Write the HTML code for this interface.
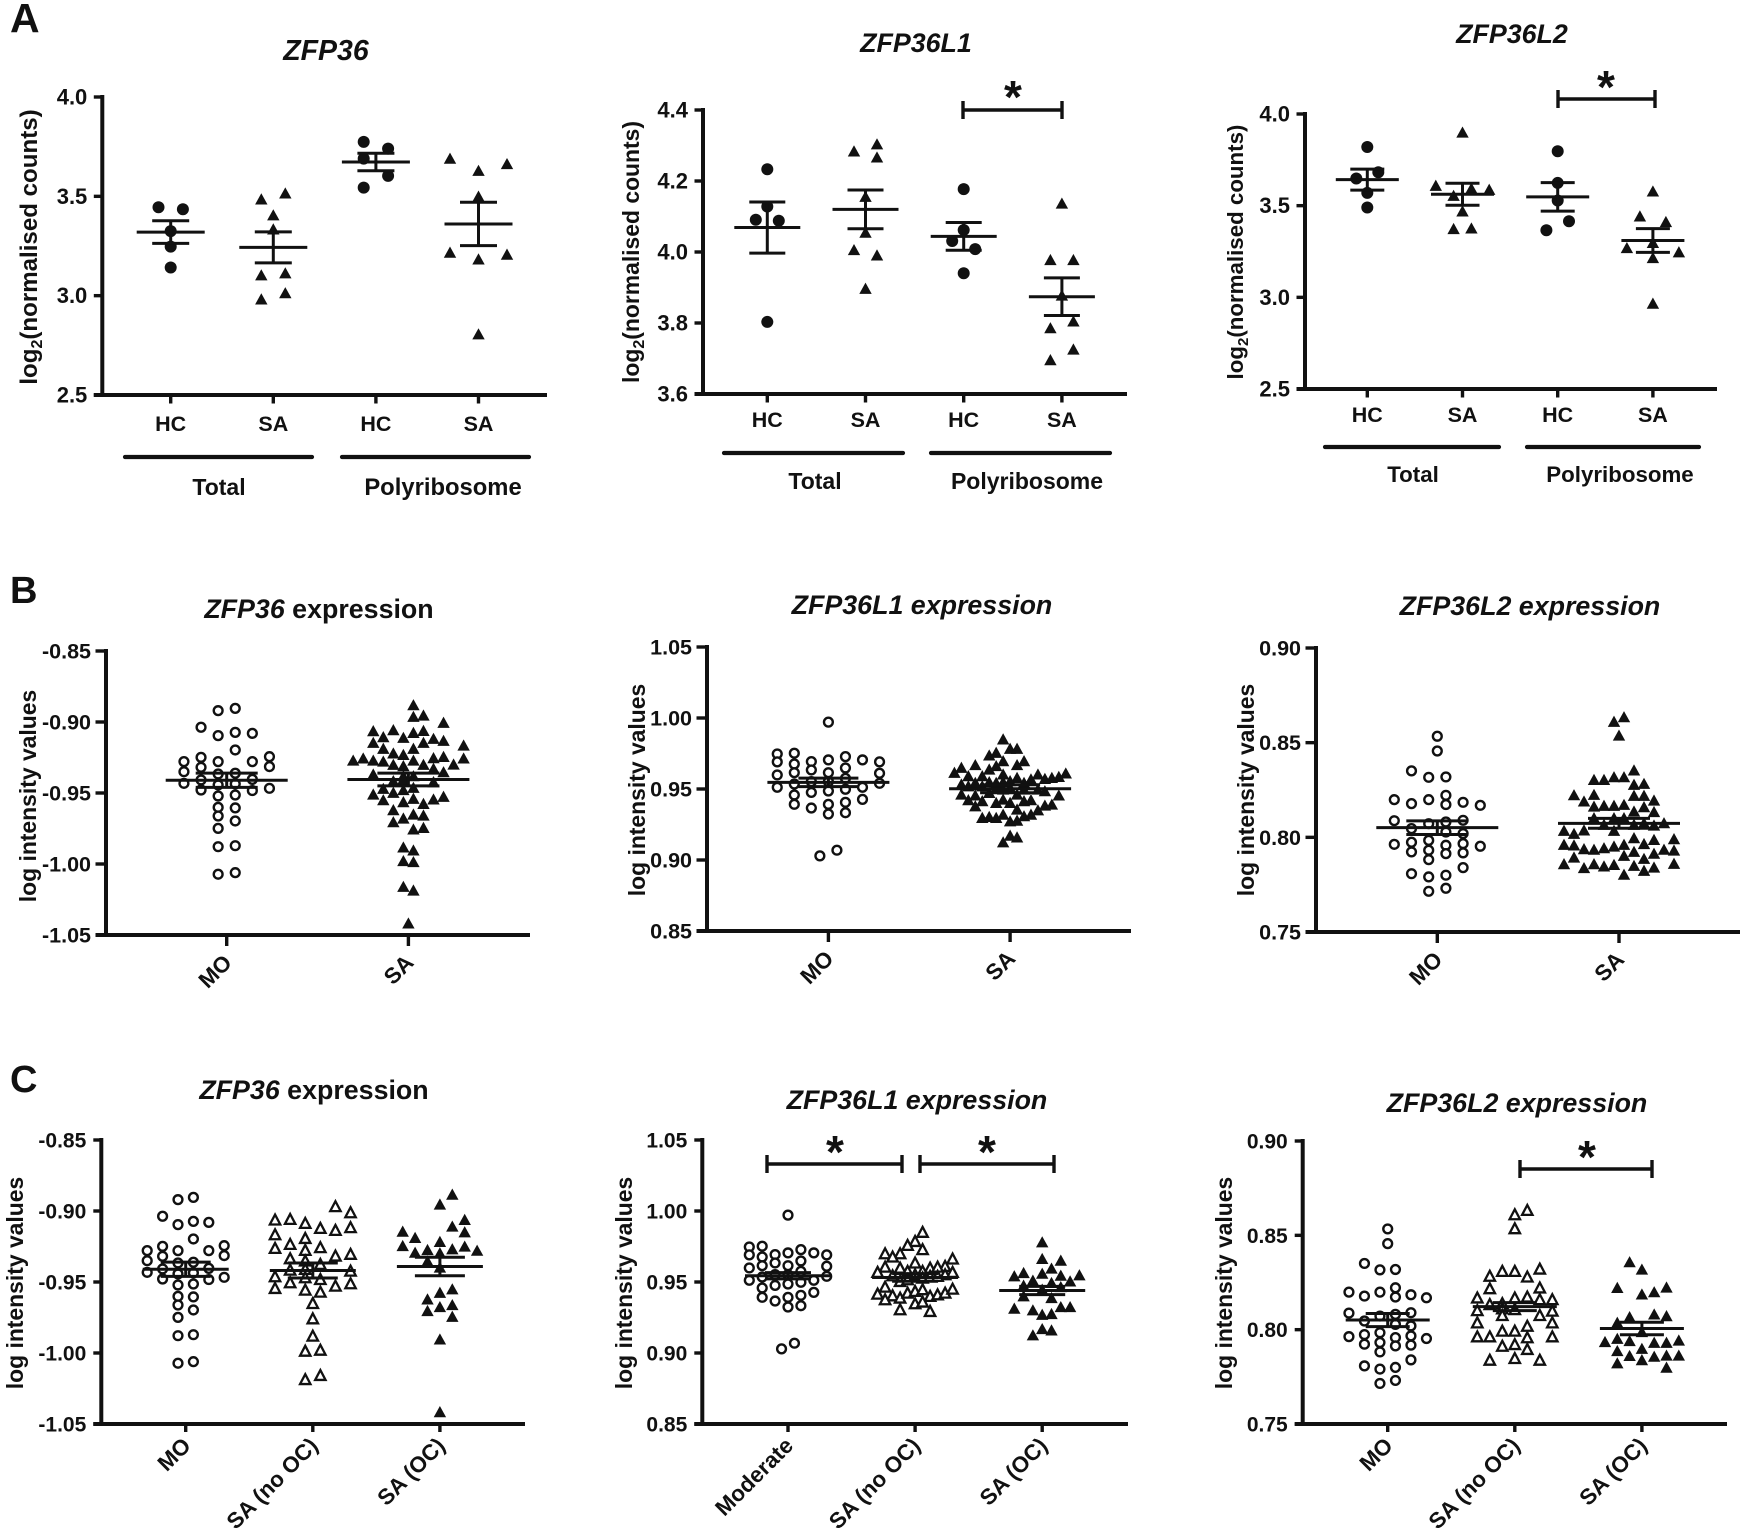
<!DOCTYPE html>
<html lang="en">
<head>
<meta charset="utf-8">
<title>ZFP36 family expression panels</title>
<style>
html,body{margin:0;padding:0;background:#fff;}
svg{display:block;}
text{font-family:"Liberation Sans",Arial,sans-serif;font-weight:bold;fill:#111;}
.title{font-size:26.8px;font-style:italic;text-anchor:middle;}
.title tspan.plain{font-style:normal;}
.letter{font-size:38px;font-weight:bold;}
.ytitle{font-size:22.9px;text-anchor:middle;}
.group{font-size:23px;text-anchor:middle;}
.star{font-size:46px;text-anchor:middle;}
.bar{stroke:#111;stroke-width:4.2;stroke-linecap:round;fill:none;}
.bracket{stroke:#111;stroke-width:3.4;fill:none;}
</style>
</head>
<body>
<svg id="figure" xmlns="http://www.w3.org/2000/svg" width="1748" height="1534" viewBox="0 0 1748 1534">
  <rect width="1748" height="1534" fill="#fff"/>

  <text class="letter" x="10" y="32" style="font-size:41px">A</text>
  <text class="letter" x="10" y="603">B</text>
  <text class="letter" x="10" y="1092">C</text>

  <text class="title" x="326" y="60" style="font-size:28.5px">ZFP36</text>
  <text class="title" x="916" y="52">ZFP36L1</text>
  <text class="title" x="1512" y="43">ZFP36L2</text>
  <text class="title" x="319" y="618">ZFP36<tspan class="plain"> expression</tspan></text>
  <text class="title" x="922" y="614">ZFP36L1 expression</text>
  <text class="title" x="1530" y="615">ZFP36L2 expression</text>
  <text class="title" x="314" y="1099">ZFP36<tspan class="plain"> expression</tspan></text>
  <text class="title" x="917" y="1109">ZFP36L1 expression</text>
  <text class="title" x="1517" y="1112">ZFP36L2 expression</text>

  <text class="ytitle" transform="translate(37,247) rotate(-90)" style="font-size:24.1px">log<tspan dy="5" style="font-size:16px">2</tspan><tspan dy="-5">(normalised counts)</tspan></text>
  <text class="ytitle" transform="translate(639,252) rotate(-90)" style="font-size:22.9px">log<tspan dy="5" style="font-size:16px">2</tspan><tspan dy="-5">(normalised counts)</tspan></text>
  <text class="ytitle" transform="translate(1243,252) rotate(-90)" style="font-size:22.3px">log<tspan dy="5" style="font-size:15px">2</tspan><tspan dy="-5">(normalised counts)</tspan></text>
  <text class="ytitle" transform="translate(36,796) rotate(-90)">log intensity values</text>
  <text class="ytitle" transform="translate(645,790) rotate(-90)">log intensity values</text>
  <text class="ytitle" transform="translate(1254,790) rotate(-90)">log intensity values</text>
  <text class="ytitle" transform="translate(23,1283) rotate(-90)">log intensity values</text>
  <text class="ytitle" transform="translate(632,1283) rotate(-90)">log intensity values</text>
  <text class="ytitle" transform="translate(1232,1283) rotate(-90)">log intensity values</text>

  <line class="bar" x1="125" y1="457" x2="312" y2="457"/>
  <line class="bar" x1="342" y1="457" x2="529" y2="457"/>
  <text class="group" x="219" y="495">Total</text>
  <text class="group" x="443" y="495" style="font-size:23.8px">Polyribosome</text>

  <line class="bar" x1="724" y1="453" x2="903" y2="453"/>
  <line class="bar" x1="931" y1="453" x2="1110" y2="453"/>
  <text class="group" x="815" y="489">Total</text>
  <text class="group" x="1027" y="489">Polyribosome</text>

  <line class="bar" x1="1325" y1="447" x2="1499" y2="447"/>
  <line class="bar" x1="1527" y1="447" x2="1699" y2="447"/>
  <text class="group" x="1413" y="482" style="font-size:22.3px">Total</text>
  <text class="group" x="1620" y="482" style="font-size:22.3px">Polyribosome</text>

  <path class="bracket" d="M963 101V119M963 110H1062M1062 101V119"/>
  <text class="star" x="1013" y="113">*</text>
  <path class="bracket" d="M1558 90V108M1558 99H1655M1655 90V108"/>
  <text class="star" x="1606" y="103">*</text>
  <path class="bracket" d="M767 1155V1173M767 1164H902M902 1155V1173"/>
  <text class="star" x="835" y="1168">*</text>
  <path class="bracket" d="M920 1155V1173M920 1164H1054M1054 1155V1173"/>
  <text class="star" x="987" y="1168">*</text>
  <path class="bracket" d="M1520 1160V1178M1520 1169H1652M1652 1160V1178"/>
  <text class="star" x="1587" y="1173">*</text>

  <g id="charts"></g>
</svg>

<script>
// ---------- Panel A data ----------
const a1Categories = ['HC', 'SA', 'HC', 'SA'];
const a1TickLabels = ['2.5', '3.0', '3.5', '4.0'];
const a1HcTotalValues = [3.445, 3.435, 3.325, 3.247, 3.142];
const a1HcTotalLanes = [-1, 1, 0, 0, 0];
const a1SaTotalValues = [3.482, 3.512, 3.402, 3.331, 3.10, 3.11, 3.01, 2.979];
const a1SaTotalLanes = [-1, 1, 0, 0, -1, 1, 1, -1];
const a1HcPolyValues = [3.774, 3.74, 3.69, 3.603, 3.544];
const a1HcPolyLanes = [-1, 1, -1, 1, -1];
const a1SaPolyValues = [3.687, 3.66, 3.626, 3.496, 3.214, 3.204, 3.18, 2.803];
const a1SaPolyLanes = [-1, 1, 0, 0, -1, 1, 0, 0];
const a1Means = [3.32, 3.243, 3.673, 3.361];
const a1Sems = [0.057, 0.078, 0.044, 0.109];

const a2Categories = ['HC', 'SA', 'HC', 'SA'];
const a2TickLabels = ['3.6', '3.8', '4.0', '4.2', '4.4'];
const a2HcTotalValues = [4.233, 4.128, 4.091, 4.088, 3.803];
const a2HcTotalLanes = [0, 0, -1, 1, 0];
const a2SaTotalValues = [4.302, 4.282, 4.265, 4.154, 4.053, 4.004, 3.989, 3.895];
const a2SaTotalLanes = [1, -1, 1, 0, 0, -1, 1, 0];
const a2HcPolyValues = [4.177, 4.062, 4.031, 4.008, 3.94];
const a2HcPolyLanes = [0, 0, -1, 1, 0];
const a2SaPolyValues = [4.135, 3.976, 3.976, 3.876, 3.803, 3.784, 3.724, 3.694];
const a2SaPolyLanes = [0, -1, 1, 0, 1, -1, 1, -1];
const a2Means = [4.069, 4.12, 4.044, 3.874];
const a2Sems = [0.072, 0.0545, 0.039, 0.053];

const a3Categories = ['HC', 'SA', 'HC', 'SA'];
const a3TickLabels = ['2.5', '3.0', '3.5', '4.0'];
const a3HcTotalValues = [3.82, 3.682, 3.648, 3.57, 3.49];
const a3HcTotalLanes = [0, 1, -1, 0, 0];
const a3SaTotalValues = [3.896, 3.606, 3.584, 3.59, 3.551, 3.466, 3.37, 3.373];
const a3SaTotalLanes = [0, -3, 3, 1, -1, 0, -1, 1];
const a3HcPolyValues = [3.797, 3.624, 3.528, 3.415, 3.366];
const a3HcPolyLanes = [0, 0, 0, 1, -1];
const a3SaPolyValues = [3.575, 3.439, 3.408, 3.294, 3.266, 3.243, 3.212, 2.963];
const a3SaPolyLanes = [0, -1, 1, 0, -2, 2, 0, 0];
const a3Means = [3.642, 3.562, 3.548, 3.31];
const a3Sems = [0.057, 0.06, 0.078, 0.065];

// ---------- Moderate (MO) data, shared by panels B and C ----------
const zfp36MoValues = [-0.9279, -0.935, -0.9432, -0.9037, -0.9249, -0.9319, -0.9408, -0.9479, -0.892, -0.9096, -0.9279, -0.9366, -0.9443, -0.9521, -0.9601, -0.9662, -0.9749, -0.9878, -1.0072, -0.8904, -0.9073, -0.9197, -0.9361, -0.9436, -0.9514, -0.9605, -0.9697, -0.9871, -1.0061, -0.908, -0.9279, -0.9404, -0.9483, -0.9244, -0.9314, -0.9467];
const zfp36MoLanes = [-2.5, -2.5, -2.5, -1.5, -1.5, -1.5, -1.5, -1.5, -0.5, -0.5, -0.5, -0.5, -0.5, -0.5, -0.5, -0.5, -0.5, -0.5, -0.5, 0.5, 0.5, 0.5, 0.5, 0.5, 0.5, 0.5, 0.5, 0.5, 0.5, 1.5, 1.5, 1.5, 1.5, 2.5, 2.5, 2.5];
const l1MoValues = [0.9747, 0.9691, 0.9599, 0.9512, 0.9752, 0.9676, 0.9615, 0.9535, 0.9458, 0.9392, 0.9693, 0.9634, 0.9552, 0.9476, 0.9366, 0.9971, 0.9705, 0.9615, 0.9552, 0.9486, 0.9392, 0.9324, 0.9728, 0.9648, 0.9575, 0.9498, 0.9406, 0.9333, 0.9705, 0.9512, 0.9427, 0.9691, 0.9611, 0.954, 0.9069, 0.9029];
const l1MoLanes = [-3, -3, -3, -3, -2, -2, -2, -2, -2, -2, -1, -1, -1, -1, -1, 0, 0, 0, 0, 0, 0, 0, 1, 1, 1, 1, 1, 1, 2, 2, 2, 3, 3, 3, 0.5, -0.5];
const l2MoValues = [0.8534, 0.8456, 0.8351, 0.8317, 0.8319, 0.8222, 0.8173, 0.8199, 0.8199, 0.8178, 0.8185, 0.8169, 0.8088, 0.8072, 0.8081, 0.809, 0.8046, 0.8028, 0.802, 0.7984, 0.7974, 0.7963, 0.7958, 0.7967, 0.7953, 0.7923, 0.7932, 0.7914, 0.7918, 0.7882, 0.7808, 0.784, 0.78, 0.7791, 0.7731, 0.7715];
const l2MoLanes = [0, 0, -1.5, -0.5, 0.5, 0.5, 0.5, -0.5, -2.5, -1.5, 1.5, 2.5, -2.5, -0.5, 0.5, 1.5, -1.5, 0.5, 1.5, -0.5, -1.5, -2.5, 0.5, 1.5, 2.5, -1.5, -0.5, 0.5, 1.5, -0.5, -1.5, 1.5, 0.5, -0.5, 0.5, -0.5];

// ---------- Panel B data ----------
const bCategories = ['MO', 'SA'];
const b1TickLabels = ['-1.05', '-1.00', '-0.95', '-0.90', '-0.85'];
const b1SaValues = [-0.8885, -0.8967, -0.8958, -0.9009, -0.9068, -0.9061, -0.908, -0.9066, -0.911, -0.9115, -0.9122, -0.9136, -0.915, -0.915, -0.9169, -0.9192, -0.9192, -0.9225, -0.9235, -0.9258, -0.9249, -0.926, -0.9275, -0.926, -0.9275, -0.9282, -0.9275, -0.9305, -0.9314, -0.9305, -0.9303, -0.9333, -0.9357, -0.9373, -0.9385, -0.9385, -0.942, -0.9408, -0.9474, -0.9502, -0.9467, -0.9483, -0.9427, -0.9514, -0.9554, -0.9544, -0.9549, -0.953, -0.9568, -0.958, -0.9624, -0.9655, -0.9662, -0.9683, -0.9709, -0.976, -0.9749, -0.9887, -0.9908, -0.9983, -0.999, -1.0164, -1.019, -1.0422];
const b1SaLanes = [0.5, 0.5, 1.5, 3.5, -3.5, -1.5, 0.5, 1.5, -2.5, -0.5, 2.5, 3.5, -3.5, 1.5, 5.5, -2.5, 0.5, -1.5, -0.5, 2.5, 3.5, 5.5, -5.5, -4.5, -3.5, -2.5, 0.5, -1.5, -0.5, 1.5, 4.5, 2.5, 3.5, -3.5, -0.5, 0.5, -1.5, -0.5, -2.5, -1.5, 0.5, -0.5, 2.5, -3.5, -2.5, 0.5, 2.5, 3.5, -0.5, 1.5, -1.5, 0.5, 1.5, -0.5, -1.5, 0.5, 1.5, -0.5, 0.5, -0.5, 0.5, -0.5, 0.5, 0];
const b1Means = [-0.941, -0.9405];
const b1Sems = [0.005, 0.0045];

const b2TickLabels = ['0.85', '0.90', '0.95', '1.00', '1.05'];
const b2SaValues = [0.9846, 0.978, 0.978, 0.9733, 0.9752, 0.9693, 0.9693, 0.9665, 0.9665, 0.9658, 0.9646, 0.9634, 0.9611, 0.9587, 0.9587, 0.9599, 0.9599, 0.9606, 0.9582, 0.9575, 0.9568, 0.9564, 0.9575, 0.9552, 0.9545, 0.954, 0.9545, 0.954, 0.9528, 0.954, 0.9516, 0.9516, 0.9505, 0.9505, 0.9493, 0.9493, 0.9493, 0.9481, 0.9458, 0.9451, 0.9469, 0.9458, 0.9451, 0.9418, 0.9411, 0.9399, 0.9399, 0.9411, 0.9418, 0.938, 0.9387, 0.9375, 0.9422, 0.9352, 0.9347, 0.9316, 0.9305, 0.9293, 0.93, 0.9293, 0.9316, 0.9269, 0.9274, 0.9168, 0.9156, 0.9121];
const b2SaLanes = [-1, 0, 1, -3, -2, -1, 2, 1, -5, -2, -7, -3, -8, -6, -4, -1, 4, 8, 7, 6, 5, 3, 1, 0, -1, -2, -3, -5, -7, 2, -6, -4, -2, 0, -1, 2, 4, 5, -7, -5, -3, 1, 7, -6, -4, -2, 0, 2, 3, 5, 6, -5, -1, 1, 4, 3, 2, -4, -3, -2, -1, 0, 1, 0, 1, -1];
const b2Means = [0.9547, 0.9502];
const b2Sems = [0.003, 0.0028];

const b3TickLabels = ['0.75', '0.80', '0.85', '0.90'];
const b3SaValues = [0.8632, 0.8608, 0.8535, 0.8351, 0.8301, 0.8301, 0.8315, 0.8315, 0.8275, 0.828, 0.822, 0.8222, 0.8217, 0.8217, 0.8187, 0.8192, 0.816, 0.8164, 0.8164, 0.8169, 0.8157, 0.8134, 0.8131, 0.8099, 0.8099, 0.8099, 0.8064, 0.8064, 0.8072, 0.806, 0.8072, 0.8032, 0.8016, 0.8034, 0.8032, 0.7993, 0.7984, 0.7988, 0.7958, 0.7955, 0.7958, 0.7962, 0.7935, 0.7932, 0.794, 0.7949, 0.7932, 0.7928, 0.7891, 0.79, 0.7921, 0.7911, 0.7884, 0.7856, 0.7856, 0.7844, 0.7852, 0.7847, 0.7835, 0.7838, 0.7821, 0.7858, 0.78];
const b3SaLanes = [0.5, -0.5, 0, 1.5, -2.5, -1.5, -0.5, 0.5, 1.5, 2.5, -4.5, -2.5, 1.5, 2.5, -3.5, 3.5, -2.5, -1.5, -0.5, 0.5, 2.5, 1.5, 3.5, -2.5, -0.5, 0.5, -1.5, 1.5, 2.5, 3.5, 4.5, -5.5, -4.5, -3.5, -0.5, 1.5, 3.5, 5.5, -5.5, -4.5, 0.5, 2.5, -3.5, -2.5, -1.5, -0.5, 4.5, 5.5, -4.5, 0.5, 1.5, 3.5, 2.5, -5.5, -2.5, -1.5, -0.5, 1.5, -3.5, 3.5, 2.5, 5.5, 0.5];
const b3Means = [0.8051, 0.8074];
const b3Sems = [0.0036, 0.0026];

// ---------- Panel C data ----------
const c1Categories = ['MO', 'SA (no OC)', 'SA (OC)'];
const c2Categories = ['Moderate', 'SA (no OC)', 'SA (OC)'];
const c3Categories = ['MO', 'SA (no OC)', 'SA (OC)'];

const c1NoOcValues = [-0.8972, -0.9015, -0.9066, -0.9062, -0.909, -0.9125, -0.9139, -0.912, -0.917, -0.9196, -0.9238, -0.9261, -0.9266, -0.928, -0.9308, -0.932, -0.9339, -0.9355, -0.9379, -0.9419, -0.9414, -0.9426, -0.9466, -0.9473, -0.9485, -0.9508, -0.9515, -0.9532, -0.9548, -0.956, -0.9574, -0.9654, -0.9762, -0.9884, -0.999, -0.9983, -1.019, -1.0161];
const c1NoOcLanes = [1.5, 2.5, -2.5, -1.5, -0.5, 0.5, 1.5, 2.5, -2.5, -0.5, -1.5, 0.5, -2.5, -0.5, 2.5, 1.5, -1.5, -0.5, 0.5, -1.5, -0.5, 2.5, -2.5, -0.5, 0.5, -1.5, 2.5, 1.5, -2.5, -0.5, 0.5, 0, 0, 0, -0.5, 0.5, -0.5, 0.5];
const c1OcValues = [-0.8888, -0.8958, -0.9066, -0.9113, -0.9149, -0.9153, -0.9193, -0.9221, -0.925, -0.9254, -0.9297, -0.9278, -0.9301, -0.9273, -0.9283, -0.9358, -0.9402, -0.9555, -0.9579, -0.9626, -0.968, -0.9666, -0.9708, -0.9748, -0.9908, -1.042];
const c1OcLanes = [1, 0, 2, 1, -3, 2, -2, 0, -3, 2, -2, -1, 0, 1, 3, -1, 0, 1, 0, -1, 0, 1, -1, 1, 0, 0];
const c1Means = [-0.941, -0.9419, -0.9391];
const c1Sems = [0.005, 0.0053, 0.0065];

const c2NoOcValues = [0.9847, 0.9783, 0.9725, 0.9755, 0.9696, 0.9696, 0.9673, 0.9659, 0.9631, 0.9607, 0.9602, 0.9595, 0.9595, 0.9602, 0.9565, 0.9572, 0.9572, 0.9565, 0.9541, 0.9548, 0.9501, 0.9513, 0.9525, 0.9537, 0.9548, 0.9537, 0.9461, 0.9412, 0.94, 0.9384, 0.9419, 0.9431, 0.9443, 0.9396, 0.9407, 0.9419, 0.9447, 0.9372, 0.9344, 0.9356, 0.9302, 0.929];
const c2NoOcLanes = [1, 0, 1, -1, -4, -2, -3, 5, 0, 4, -4, -2, 2, 3, -5, -1, 1, 5, -3, 0, -2, -1, 1, 2, 4, 3, -4, -5, -3, -2, -1, 0, 1, 2, 3, 4, 5, -4, 0, 1, -2, 2];
const c2OcValues = [0.9776, 0.9659, 0.9647, 0.9591, 0.9537, 0.956, 0.9555, 0.9541, 0.9544, 0.9506, 0.949, 0.9501, 0.9471, 0.9443, 0.9461, 0.9396, 0.9384, 0.9309, 0.9297, 0.932, 0.932, 0.9266, 0.9271, 0.9165, 0.9156, 0.9121];
const c2OcLanes = [0, 0, 2, 1, -3, -2, 0, 2, 4, -1, 1, 3, -2, 0, 2, -2, 1, -3, -1, 2, 3, 0, 1, 0, 1, -1];
const c2Means = [0.9544, 0.9532, 0.944];
const c2Sems = [0.0022, 0.0027, 0.0029];

const c3NoOcValues = [0.863, 0.8607, 0.8533, 0.8319, 0.8281, 0.8307, 0.8307, 0.8277, 0.8219, 0.8215, 0.8166, 0.8136, 0.8131, 0.8166, 0.8171, 0.8157, 0.8157, 0.8108, 0.8099, 0.8096, 0.8104, 0.8073, 0.8073, 0.8034, 0.8034, 0.8016, 0.799, 0.799, 0.796, 0.796, 0.796, 0.7955, 0.791, 0.7919, 0.7893, 0.7836, 0.7845, 0.7836];
const c3NoOcLanes = [1, 0, 0, 2, -2, -1, 0, 1, 2, -2, -3, -1, -2, 0, 1, 2, 3, -1, -3, 3, 0, -1, 2, -3, 3, 1, -1, 0, -3, -2, 3, 1, -1, 0, 1, -2, 0, 2];
const c3OcValues = [0.8355, 0.8316, 0.8219, 0.8221, 0.8196, 0.8184, 0.8034, 0.8064, 0.8078, 0.8069, 0.7985, 0.7932, 0.7949, 0.7937, 0.7928, 0.7928, 0.794, 0.7896, 0.7884, 0.7858, 0.7854, 0.786, 0.786, 0.7836, 0.7819, 0.7796];
const c3OcLanes = [-1, 0, -2, 2, 1, 0, -2, -1, 1, 2, 0, -3, -2, -1, 1, 2, 3, 0, -2, -1, 1, 2, 3, 0, -2, 2];
const c3Means = [0.8051, 0.8122, 0.8006];
const c3Sems = [0.0035, 0.0021, 0.0033];

// ---------- Drawing ----------
const SVG_NS = 'http://www.w3.org/2000/svg';
const INK = '#111';
const chartsRoot = document.getElementById('charts');

function make(tag, attrs, parent) {
  const el = document.createElementNS(SVG_NS, tag);
  for (const k in attrs) el.setAttribute(k, attrs[k]);
  parent.appendChild(el);
  return el;
}

function drawMarker(parent, shape, cx, cy) {
  let el;
  if (shape === 'circle') {
    el = make('circle', { cx: cx, cy: cy, r: 6, fill: INK }, parent);
  } else if (shape === 'circle-open') {
    el = make('circle', { cx: cx, cy: cy, r: 4.4, fill: '#fff', stroke: INK, 'stroke-width': 2.4 }, parent);
  } else if (shape === 'triangle') {
    const pts = [[cx, cy - 6.6], [cx + 6.2, cy + 4.6], [cx - 6.2, cy + 4.6]].map(p => p.join(',')).join(' ');
    el = make('polygon', { points: pts, fill: INK }, parent);
  } else {
    const pts = [[cx, cy - 5.8], [cx + 5.2, cy + 4.1], [cx - 5.2, cy + 4.1]].map(p => p.join(',')).join(' ');
    el = make('polygon', { points: pts, fill: '#fff', stroke: INK, 'stroke-width': 2.3 }, parent);
  }
  
  
}

function drawChart(cfg) {
  const g = make('g', {}, chartsRoot);
  
  

  const lo = parseFloat(cfg.ticks[0]);
  const hi = parseFloat(cfg.ticks[cfg.ticks.length - 1]);
  const yScale = v => cfg.yBot - (v - lo) / (hi - lo) * (cfg.yBot - cfg.yTop);
  const xScale = i => cfg.catStart + i * cfg.catStep;

  const yAxis = make('line', { x1: cfg.x0, x2: cfg.x0, y1: cfg.yTop - 2, y2: cfg.yBot + 2, stroke: INK, 'stroke-width': 4 }, g);
  
  
  const xAxis = make('line', { x1: cfg.x0 - cfg.yTickLen, x2: cfg.xEnd, y1: cfg.yBot, y2: cfg.yBot, stroke: INK, 'stroke-width': 4 }, g);
  
  

  cfg.ticks.forEach(label => {
    const y = yScale(parseFloat(label));
    const tick = make('line', { x1: cfg.x0 - cfg.yTickLen, x2: cfg.x0, y1: y, y2: y, stroke: INK, 'stroke-width': 3.4 }, g);
    
    
    const t = make('text', { x: cfg.x0 - 15, y: y + 7.5, 'text-anchor': 'end', 'font-size': cfg.tickFont }, g);
    
    
    t.textContent = label;
  });

  cfg.categories.forEach((label, i) => {
    const x = xScale(i);
    const tick = make('line', { x1: x, x2: x, y1: cfg.yBot, y2: cfg.yBot + cfg.xTickLen, stroke: INK, 'stroke-width': 3.4 }, g);
    
    
    let t;
    if (cfg.rotateLabels) {
      const ax = x + 6.5;
      const ay = cfg.yBot + cfg.labelDrop;
      t = make('text', { x: ax, y: ay, 'text-anchor': 'end', 'font-size': 22.3, transform: 'rotate(-45 ' + ax + ' ' + ay + ')' }, g);
    } else {
      t = make('text', { x: x, y: cfg.labelY, 'text-anchor': 'middle', 'font-size': 21.5 }, g);
    }
    
    
    t.textContent = label;
  });

  cfg.series.forEach((s, i) => {
    const cx = xScale(i);
    s.values.forEach((v, k) => {
      drawMarker(g, s.shape, cx + s.lanes[k] * s.laneStep, yScale(v));
    });
  });

  cfg.series.forEach((s, i) => {
    const cx = xScale(i);
    const m = yScale(cfg.means[i]);
    const up = yScale(cfg.means[i] + cfg.sems[i]);
    const dn = yScale(cfg.means[i] - cfg.sems[i]);
    const meanLine = make('line', { x1: cx - cfg.meanHalf, x2: cx + cfg.meanHalf, y1: m, y2: m, stroke: INK, 'stroke-width': 3 }, g);
    
    
    const stem = make('line', { x1: cx, x2: cx, y1: up, y2: dn, stroke: INK, 'stroke-width': 3 }, g);
    
    
    const capUp = make('line', { x1: cx - cfg.errHalf, x2: cx + cfg.errHalf, y1: up, y2: up, stroke: INK, 'stroke-width': 3 }, g);
    
    
    const capDn = make('line', { x1: cx - cfg.errHalf, x2: cx + cfg.errHalf, y1: dn, y2: dn, stroke: INK, 'stroke-width': 3 }, g);
    
    
  });
}

drawChart({ x0: 102.3, xEnd: 547, yTop: 97, yBot: 395, yTickLen: 8.5, xTickLen: 8.5, tickFont: 22, ticks: a1TickLabels, categories: a1Categories, catStart: 170.7, catStep: 102.6, labelY: 431, means: a1Means, sems: a1Sems, meanHalf: 34, errHalf: 18.5,
  series: [
    { values: a1HcTotalValues, lanes: a1HcTotalLanes, shape: 'circle', laneStep: 12.2 },
    { values: a1SaTotalValues, lanes: a1SaTotalLanes, shape: 'triangle', laneStep: 12 },
    { values: a1HcPolyValues, lanes: a1HcPolyLanes, shape: 'circle', laneStep: 12.2 },
    { values: a1SaPolyValues, lanes: a1SaPolyLanes, shape: 'triangle', laneStep: 28.5 }
  ] });

drawChart({ x0: 703, xEnd: 1127, yTop: 110, yBot: 394, yTickLen: 8.5, xTickLen: 8.5, tickFont: 22, ticks: a2TickLabels, categories: a2Categories, catStart: 767.3, catStep: 98.2, labelY: 427, means: a2Means, sems: a2Sems, meanHalf: 33, errHalf: 18,
  series: [
    { values: a2HcTotalValues, lanes: a2HcTotalLanes, shape: 'circle', laneStep: 11.5 },
    { values: a2SaTotalValues, lanes: a2SaTotalLanes, shape: 'triangle', laneStep: 11.5 },
    { values: a2HcPolyValues, lanes: a2HcPolyLanes, shape: 'circle', laneStep: 11.5 },
    { values: a2SaPolyValues, lanes: a2SaPolyLanes, shape: 'triangle', laneStep: 11.5 }
  ] });

drawChart({ x0: 1305, xEnd: 1717, yTop: 114, yBot: 389, yTickLen: 8.5, xTickLen: 8.5, tickFont: 22, ticks: a3TickLabels, categories: a3Categories, catStart: 1367.3, catStep: 95.2, labelY: 422, means: a3Means, sems: a3Sems, meanHalf: 31.5, errHalf: 17,
  series: [
    { values: a3HcTotalValues, lanes: a3HcTotalLanes, shape: 'circle', laneStep: 11 },
    { values: a3SaTotalValues, lanes: a3SaTotalLanes, shape: 'triangle', laneStep: 8.9 },
    { values: a3HcPolyValues, lanes: a3HcPolyLanes, shape: 'circle', laneStep: 11.3 },
    { values: a3SaPolyValues, lanes: a3SaPolyLanes, shape: 'triangle', laneStep: 13 }
  ] });

drawChart({ x0: 106, xEnd: 530, yTop: 651, yBot: 935, yTickLen: 10.5, xTickLen: 11, tickFont: 21.5, labelDrop: 29, ticks: b1TickLabels, categories: bCategories, catStart: 226.7, catStep: 181.7, rotateLabels: true, means: b1Means, sems: b1Sems, meanHalf: 61, errHalf: 31,
  series: [
    { values: zfp36MoValues, lanes: zfp36MoLanes, shape: 'circle-open', laneStep: 17.1 },
    { values: b1SaValues, lanes: b1SaLanes, shape: 'triangle', laneStep: 10.04 }
  ] });

drawChart({ x0: 707, xEnd: 1131, yTop: 647, yBot: 931, yTickLen: 10.5, xTickLen: 11, tickFont: 21.5, labelDrop: 29, ticks: b2TickLabels, categories: bCategories, catStart: 828.4, catStep: 181.7, rotateLabels: true, means: b2Means, sems: b2Sems, meanHalf: 61, errHalf: 30,
  series: [
    { values: l1MoValues, lanes: l1MoLanes, shape: 'circle-open', laneStep: 17.05 },
    { values: b2SaValues, lanes: b2SaLanes, shape: 'triangle', laneStep: 6.96 }
  ] });

drawChart({ x0: 1316, xEnd: 1740, yTop: 648, yBot: 932, yTickLen: 10.5, xTickLen: 11, tickFont: 21.5, labelDrop: 29, ticks: b3TickLabels, categories: bCategories, catStart: 1437.3, catStep: 181.7, rotateLabels: true, means: b3Means, sems: b3Sems, meanHalf: 61, errHalf: 31,
  series: [
    { values: l2MoValues, lanes: l2MoLanes, shape: 'circle-open', laneStep: 17.2 },
    { values: b3SaValues, lanes: b3SaLanes, shape: 'triangle', laneStep: 10 }
  ] });

drawChart({ x0: 101.3, xEnd: 525, yTop: 1140, yBot: 1424, yTickLen: 8, xTickLen: 8, tickFont: 21, labelDrop: 23, ticks: b1TickLabels, categories: c1Categories, catStart: 185.7, catStep: 127.1, rotateLabels: true, means: c1Means, sems: c1Sems, meanHalf: 43, errHalf: 25,
  series: [
    { values: zfp36MoValues, lanes: zfp36MoLanes, shape: 'circle-open', laneStep: 15.4 },
    { values: c1NoOcValues, lanes: c1NoOcLanes, shape: 'triangle-open', laneStep: 15.1 },
    { values: c1OcValues, lanes: c1OcLanes, shape: 'triangle', laneStep: 12.4 }
  ] });

drawChart({ x0: 702.3, xEnd: 1128, yTop: 1140, yBot: 1424, yTickLen: 8, xTickLen: 8, tickFont: 21, labelDrop: 23, ticks: b2TickLabels, categories: c2Categories, catStart: 788, catStep: 127.1, rotateLabels: true, means: c2Means, sems: c2Sems, meanHalf: 43, errHalf: 23,
  series: [
    { values: l1MoValues, lanes: l1MoLanes, shape: 'circle-open', laneStep: 12.9 },
    { values: c2NoOcValues, lanes: c2NoOcLanes, shape: 'triangle-open', laneStep: 7.5 },
    { values: c2OcValues, lanes: c2OcLanes, shape: 'triangle', laneStep: 9.3 }
  ] });

drawChart({ x0: 1302.7, xEnd: 1727, yTop: 1141, yBot: 1424, yTickLen: 8, xTickLen: 8, tickFont: 21, labelDrop: 23, ticks: b3TickLabels, categories: c3Categories, catStart: 1387.7, catStep: 127.1, rotateLabels: true, means: c3Means, sems: c3Sems, meanHalf: 42, errHalf: 22,
  series: [
    { values: l2MoValues, lanes: l2MoLanes, shape: 'circle-open', laneStep: 15.5 },
    { values: c3NoOcValues, lanes: c3NoOcLanes, shape: 'triangle-open', laneStep: 12.5 },
    { values: c3OcValues, lanes: c3OcLanes, shape: 'triangle', laneStep: 12.3 }
  ] });
</script>
</body>
</html>
